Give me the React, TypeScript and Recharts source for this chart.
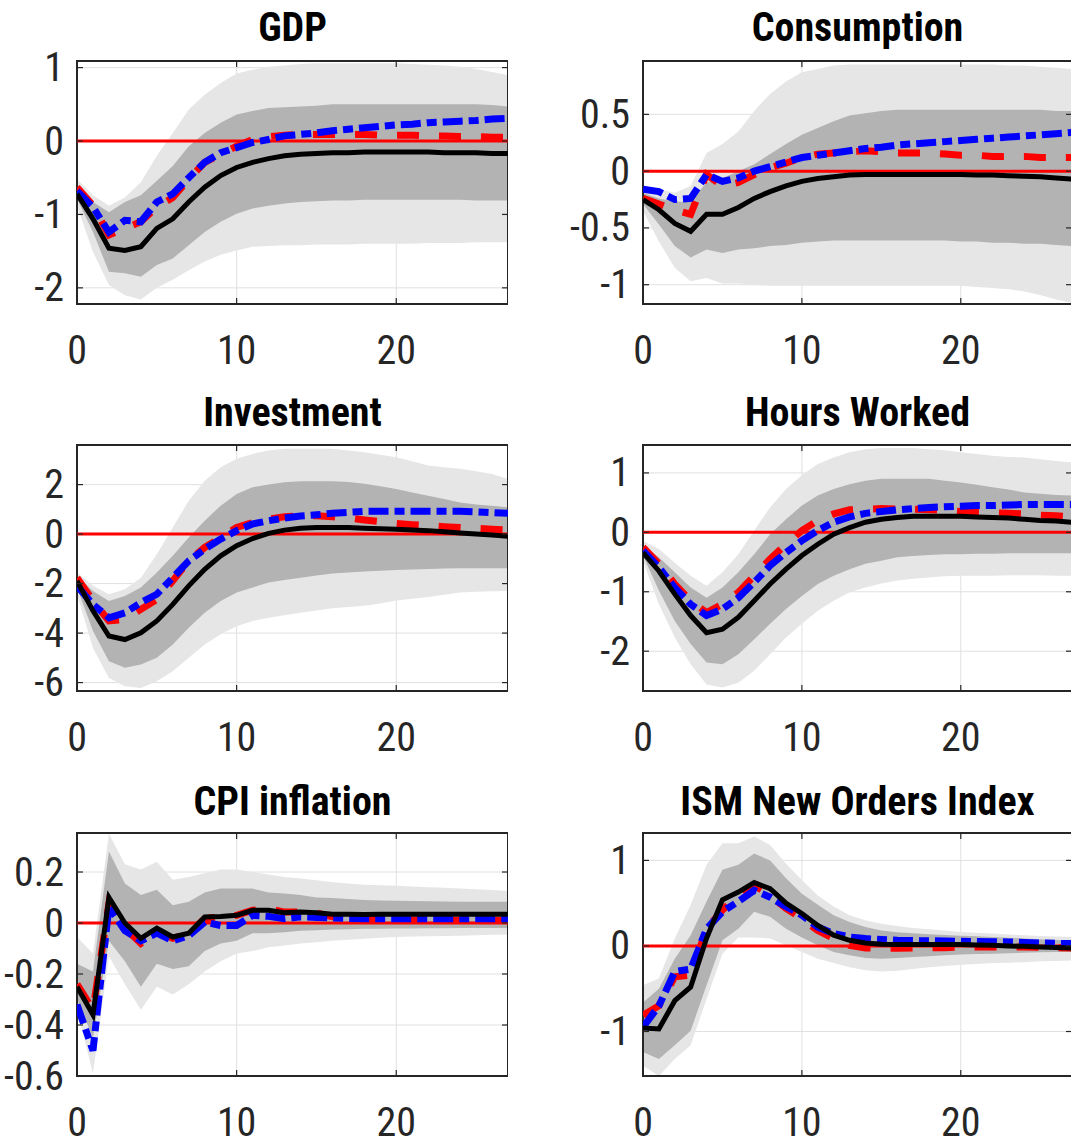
import React from "react";
import { ComposedChart, Area, Line, XAxis, YAxis, CartesianGrid, ReferenceLine, ReferenceArea } from "recharts";

const horizons = Array.from({ length: 28 }, (_, i) => i);
const xTicks = [0, 10, 20];

// GDP
const gdpBaseline = [-0.72,-1.06,-1.46,-1.49,-1.44,-1.19,-1.06,-0.83,-0.63,-0.47,-0.36,-0.29,-0.24,-0.2,-0.18,-0.17,-0.16,-0.16,-0.15,-0.15,-0.15,-0.15,-0.15,-0.16,-0.16,-0.16,-0.17,-0.17];
const gdpRed = [-0.63,-0.88,-1.28,-1.19,-1.1,-0.9,-0.77,-0.52,-0.29,-0.18,-0.07,0.02,0.06,0.08,0.09,0.09,0.09,0.09,0.09,0.08,0.08,0.08,0.07,0.07,0.06,0.06,0.05,0.05];
const gdpBlue = [-0.68,-0.9,-1.24,-1.08,-1.1,-0.83,-0.72,-0.5,-0.29,-0.16,-0.09,-0.02,0.02,0.07,0.09,0.11,0.14,0.16,0.18,0.2,0.22,0.23,0.25,0.26,0.27,0.28,0.3,0.31];
const gdpDarkHi = [-0.68,-0.83,-0.97,-0.83,-0.74,-0.54,-0.34,-0.07,0.11,0.25,0.36,0.41,0.45,0.46,0.47,0.48,0.5,0.5,0.5,0.5,0.5,0.5,0.5,0.5,0.5,0.5,0.49,0.47];
const gdpDarkLo = [-0.79,-1.24,-1.78,-1.8,-1.85,-1.69,-1.6,-1.42,-1.24,-1.1,-0.99,-0.92,-0.88,-0.85,-0.83,-0.82,-0.81,-0.81,-0.8,-0.8,-0.8,-0.8,-0.8,-0.8,-0.8,-0.81,-0.81,-0.81];
const gdpLightHi = [-0.52,-0.74,-0.88,-0.77,-0.56,-0.2,0.11,0.43,0.63,0.79,0.92,0.97,1.01,1.03,1.05,1.06,1.06,1.06,1.06,1.06,1.06,1.05,1.04,1.03,1.01,0.98,0.94,0.9];
const gdpLightLo = [-0.88,-1.51,-1.96,-2.1,-2.16,-2.0,-1.89,-1.76,-1.64,-1.55,-1.49,-1.44,-1.43,-1.42,-1.42,-1.41,-1.41,-1.41,-1.4,-1.4,-1.4,-1.4,-1.39,-1.39,-1.39,-1.38,-1.38,-1.38];

// Consumption
const consBaseline = [-0.25,-0.34,-0.46,-0.53,-0.38,-0.38,-0.32,-0.24,-0.18,-0.13,-0.09,-0.065,-0.05,-0.035,-0.03,-0.03,-0.03,-0.03,-0.03,-0.03,-0.03,-0.035,-0.035,-0.04,-0.045,-0.05,-0.06,-0.07];
const consRed = [-0.24,-0.29,-0.34,-0.38,-0.03,-0.13,-0.1,-0.03,0.03,0.07,0.12,0.15,0.16,0.17,0.18,0.17,0.16,0.16,0.16,0.15,0.14,0.14,0.13,0.13,0.13,0.12,0.12,0.12];
const consBlue = [-0.16,-0.18,-0.25,-0.24,-0.03,-0.09,-0.06,0,0.04,0.08,0.12,0.14,0.16,0.18,0.2,0.21,0.23,0.24,0.25,0.26,0.27,0.28,0.29,0.3,0.31,0.32,0.33,0.34];
const consDarkHi = [-0.19,-0.24,-0.27,-0.27,-0.1,-0.06,0,0.06,0.15,0.24,0.32,0.38,0.44,0.49,0.51,0.53,0.54,0.54,0.54,0.54,0.54,0.54,0.54,0.54,0.54,0.54,0.53,0.53];
const consDarkLo = [-0.29,-0.47,-0.66,-0.76,-0.69,-0.72,-0.69,-0.68,-0.66,-0.65,-0.63,-0.62,-0.61,-0.61,-0.61,-0.61,-0.61,-0.61,-0.61,-0.61,-0.62,-0.62,-0.63,-0.63,-0.64,-0.64,-0.65,-0.66];
const consLightHi = [-0.15,-0.16,-0.19,-0.13,0.16,0.24,0.35,0.53,0.68,0.79,0.87,0.9,0.93,0.94,0.94,0.94,0.94,0.94,0.94,0.94,0.94,0.94,0.94,0.93,0.93,0.92,0.91,0.9];
const consLightLo = [-0.35,-0.62,-0.85,-0.97,-0.94,-0.99,-0.99,-1.0,-1.01,-1.01,-1.01,-1.01,-1.01,-1.01,-1.01,-1.01,-1.01,-1.01,-1.01,-1.01,-1.01,-1.02,-1.03,-1.04,-1.06,-1.09,-1.13,-1.16];

// Investment
const invBaseline = [-1.89,-3.1,-4.12,-4.26,-3.99,-3.51,-2.84,-2.09,-1.42,-0.88,-0.47,-0.18,0.03,0.16,0.24,0.27,0.27,0.27,0.24,0.22,0.2,0.17,0.14,0.09,0.04,0.0,-0.04,-0.09];
const invRed = [-1.76,-2.7,-3.51,-3.45,-3.04,-2.64,-1.89,-1.08,-0.54,-0.14,0.27,0.47,0.61,0.7,0.74,0.74,0.7,0.65,0.57,0.5,0.43,0.38,0.34,0.3,0.27,0.23,0.2,0.16];
const invBlue = [-2.09,-2.84,-3.38,-3.18,-2.77,-2.43,-1.76,-1.08,-0.61,-0.2,0.14,0.41,0.54,0.65,0.73,0.78,0.84,0.88,0.92,0.92,0.92,0.92,0.92,0.92,0.92,0.9,0.87,0.84];
const invDarkHi = [-1.69,-2.3,-2.7,-2.5,-2.16,-1.55,-0.88,-0.14,0.54,1.15,1.62,1.89,2.0,2.09,2.14,2.14,2.14,2.1,2.03,1.93,1.82,1.68,1.55,1.42,1.28,1.2,1.15,1.08];
const invDarkLo = [-2.16,-3.92,-5.14,-5.4,-5.27,-5.0,-4.46,-3.78,-3.18,-2.7,-2.36,-2.16,-1.96,-1.85,-1.76,-1.67,-1.59,-1.55,-1.51,-1.48,-1.45,-1.43,-1.41,-1.39,-1.38,-1.38,-1.38,-1.38];
const invLightHi = [-1.55,-2.09,-2.43,-2.23,-1.76,-0.81,0.27,1.35,2.16,2.7,3.04,3.24,3.38,3.45,3.45,3.45,3.45,3.38,3.31,3.21,3.11,2.94,2.77,2.7,2.64,2.54,2.43,2.23];
const invLightLo = [-2.43,-4.6,-5.81,-6.15,-6.22,-5.95,-5.54,-5.0,-4.46,-4.05,-3.72,-3.51,-3.38,-3.28,-3.18,-3.09,-3.0,-2.95,-2.9,-2.8,-2.68,-2.61,-2.54,-2.45,-2.36,-2.33,-2.31,-2.3];

// Hours worked
const hrsBaseline = [-0.34,-0.65,-1.04,-1.4,-1.69,-1.63,-1.43,-1.15,-0.87,-0.62,-0.39,-0.2,-0.03,0.08,0.17,0.22,0.25,0.27,0.27,0.27,0.27,0.26,0.25,0.24,0.22,0.2,0.19,0.17];
const hrsRed = [-0.25,-0.53,-0.87,-1.15,-1.35,-1.21,-1.01,-0.73,-0.45,-0.2,0.03,0.2,0.31,0.38,0.39,0.4,0.39,0.39,0.38,0.37,0.35,0.34,0.33,0.32,0.31,0.29,0.28,0.26];
const hrsBlue = [-0.31,-0.59,-0.93,-1.21,-1.4,-1.29,-1.1,-0.84,-0.56,-0.34,-0.14,0.03,0.17,0.26,0.32,0.35,0.38,0.4,0.42,0.43,0.44,0.45,0.45,0.46,0.47,0.47,0.47,0.47];
const hrsDarkHi = [-0.22,-0.42,-0.67,-0.93,-1.1,-0.93,-0.67,-0.37,-0.03,0.22,0.45,0.62,0.73,0.81,0.87,0.9,0.9,0.9,0.9,0.87,0.84,0.8,0.76,0.72,0.67,0.65,0.63,0.62];
const hrsDarkLo = [-0.39,-0.98,-1.49,-1.88,-2.19,-2.22,-2.05,-1.8,-1.54,-1.29,-1.07,-0.87,-0.73,-0.62,-0.53,-0.48,-0.42,-0.4,-0.38,-0.37,-0.37,-0.36,-0.36,-0.35,-0.35,-0.35,-0.35,-0.35];
const hrsLightHi = [-0.14,-0.28,-0.51,-0.73,-0.9,-0.67,-0.37,0.03,0.42,0.73,0.96,1.15,1.26,1.35,1.4,1.42,1.42,1.42,1.4,1.38,1.35,1.32,1.29,1.27,1.26,1.23,1.2,1.18];
const hrsLightLo = [-0.48,-1.21,-1.77,-2.22,-2.56,-2.61,-2.53,-2.33,-2.05,-1.77,-1.54,-1.32,-1.15,-1.01,-0.93,-0.86,-0.81,-0.78,-0.76,-0.74,-0.73,-0.73,-0.73,-0.72,-0.72,-0.72,-0.73,-0.73];

// CPI inflation
const cpiBaseline = [-0.25,-0.36,0.1,0.0,-0.06,-0.02,-0.055,-0.04,0.024,0.026,0.03,0.05,0.05,0.04,0.043,0.04,0.034,0.034,0.033,0.034,0.034,0.034,0.034,0.034,0.034,0.034,0.034,0.034];
const cpiRed = [-0.24,-0.34,0.076,-0.02,-0.08,-0.035,-0.06,-0.04,0.017,0.024,0.03,0.05,0.057,0.043,0.043,0.04,0.024,0.02,0.017,0.015,0.013,0.012,0.011,0.01,0.01,0.01,0.01,0.01];
const cpiBlue = [-0.32,-0.5,0.063,-0.03,-0.07,-0.04,-0.07,-0.05,0.004,-0.01,-0.01,0.03,0.026,0.017,0.024,0.022,0.02,0.018,0.017,0.017,0.017,0.017,0.017,0.017,0.017,0.017,0.017,0.017];
const cpiDarkHi = [-0.16,-0.19,0.28,0.155,0.11,0.13,0.07,0.083,0.12,0.135,0.135,0.135,0.12,0.116,0.11,0.1,0.098,0.094,0.09,0.088,0.087,0.086,0.085,0.084,0.083,0.083,0.083,0.083];
const cpiDarkLo = [-0.3,-0.45,-0.07,-0.15,-0.25,-0.16,-0.18,-0.17,-0.11,-0.08,-0.07,-0.04,-0.04,-0.036,-0.03,-0.028,-0.025,-0.024,-0.023,-0.023,-0.022,-0.022,-0.021,-0.021,-0.02,-0.02,-0.02,-0.02];
const cpiLightHi = [-0.055,-0.12,0.35,0.23,0.21,0.24,0.17,0.18,0.195,0.21,0.21,0.2,0.19,0.18,0.175,0.168,0.16,0.155,0.15,0.148,0.146,0.143,0.14,0.138,0.135,0.132,0.129,0.126];
const cpiLightLo = [-0.34,-0.59,-0.13,-0.24,-0.34,-0.25,-0.28,-0.24,-0.19,-0.15,-0.12,-0.11,-0.095,-0.088,-0.08,-0.075,-0.07,-0.066,-0.062,-0.058,-0.055,-0.053,-0.052,-0.051,-0.05,-0.048,-0.046,-0.045];

// ISM New Orders Index
const ismBaseline = [-0.96,-0.97,-0.64,-0.48,0.09,0.54,0.63,0.74,0.67,0.5,0.38,0.24,0.125,0.066,0.035,0.02,0.016,0.016,0.016,0.016,0.016,0.012,0.008,0.0,-0.005,-0.012,-0.018,-0.023];
const ismRed = [-0.81,-0.7,-0.36,-0.34,0.2,0.42,0.59,0.71,0.59,0.44,0.32,0.18,0.086,0.008,-0.023,-0.03,-0.027,-0.024,-0.02,-0.02,-0.012,-0.012,-0.012,-0.012,-0.012,-0.015,-0.02,-0.023];
const ismBlue = [-0.95,-0.7,-0.3,-0.27,0.2,0.4,0.52,0.65,0.57,0.46,0.36,0.22,0.145,0.105,0.086,0.074,0.066,0.063,0.06,0.058,0.055,0.052,0.05,0.047,0.04,0.035,0.03,0.027];
const ismDarkHi = [-0.66,-0.5,-0.15,0.125,0.52,0.89,0.95,1.08,1.0,0.79,0.61,0.48,0.36,0.28,0.22,0.18,0.16,0.148,0.137,0.128,0.12,0.112,0.105,0.097,0.086,0.078,0.07,0.066];
const ismDarkLo = [-1.24,-1.32,-1.16,-0.99,-0.46,0.066,0.2,0.4,0.34,0.2,0.1,0.008,-0.07,-0.11,-0.14,-0.15,-0.14,-0.13,-0.12,-0.11,-0.1,-0.095,-0.09,-0.085,-0.08,-0.075,-0.072,-0.07];
const ismLightHi = [-0.46,-0.38,0.086,0.48,0.95,1.2,1.2,1.28,1.18,0.96,0.77,0.59,0.46,0.36,0.3,0.26,0.234,0.21,0.195,0.18,0.164,0.155,0.145,0.135,0.125,0.115,0.11,0.105];
const ismLightLo = [-1.4,-1.52,-1.32,-1.16,-0.62,-0.09,0.1,0.1,0.086,0.008,-0.07,-0.15,-0.2,-0.25,-0.285,-0.3,-0.29,-0.27,-0.25,-0.235,-0.22,-0.21,-0.2,-0.195,-0.19,-0.18,-0.175,-0.17];

const titles = ["GDP", "Consumption", "Investment", "Hours Worked", "CPI inflation", "ISM New Orders Index"];
const yTicks = [[-2, -1, 0, 1], [-1, -0.5, 0, 0.5], [-6, -4, -2, 0, 2], [-2, -1, 0, 1], [-0.6, -0.4, -0.2, 0, 0.2], [-1, 0, 1]];
const yDomains = [[-2.22, 1.09], [-1.17, 0.97], [-6.34, 3.6], [-2.67, 1.47], [-0.6, 0.353], [-1.52, 1.32]];

const series = [
  [gdpBaseline, gdpRed, gdpBlue, gdpDarkLo, gdpDarkHi, gdpLightLo, gdpLightHi],
  [consBaseline, consRed, consBlue, consDarkLo, consDarkHi, consLightLo, consLightHi],
  [invBaseline, invRed, invBlue, invDarkLo, invDarkHi, invLightLo, invLightHi],
  [hrsBaseline, hrsRed, hrsBlue, hrsDarkLo, hrsDarkHi, hrsLightLo, hrsLightHi],
  [cpiBaseline, cpiRed, cpiBlue, cpiDarkLo, cpiDarkHi, cpiLightLo, cpiLightHi],
  [ismBaseline, ismRed, ismBlue, ismDarkLo, ismDarkHi, ismLightLo, ismLightHi],
];

// layout (plot boxes)
const boxes = [
  { left: 77, top: 61, w: 431, h: 243, titleY: 28 },
  { left: 643, top: 61, w: 429, h: 243, titleY: 28 },
  { left: 77, top: 445, w: 431, h: 246, titleY: 413 },
  { left: 643, top: 445, w: 429, h: 246, titleY: 413 },
  { left: 77, top: 833, w: 431, h: 243, titleY: 802 },
  { left: 643, top: 833, w: 429, h: 243, titleY: 802 },
];

const FONT = "'Liberation Sans Narrow', 'Roboto Condensed', 'DejaVu Sans Condensed', 'Liberation Sans', sans-serif";
const AXW = 100;
const AXH = 80;
const TOPPAD = 24;
const YGAP = 13;
const XGAP = 46;
const TICKLEN = 6;
const AXCOL = "#262626";

const YTick = (props: any) => {
  const { x, y, payload, plotW } = props;
  const px = x + YGAP;
  return (
    <g>
      <line x1={px} x2={px + TICKLEN} y1={y} y2={y} stroke={AXCOL} strokeWidth={1.2} />
      <line x1={px + plotW - TICKLEN} x2={px + plotW} y1={y} y2={y} stroke={AXCOL} strokeWidth={1.2} />
      <text x={x} y={y} textAnchor="end" dominantBaseline="central" fontSize={40} fill={AXCOL} fontFamily={FONT}>
        {String(payload.value)}
      </text>
    </g>
  );
};
const XTick = (props: any) => {
  const { x, y, payload, plotH } = props;
  const py = y - XGAP;
  return (
    <g>
      <line x1={x} x2={x} y1={py} y2={py - TICKLEN} stroke={AXCOL} strokeWidth={1.2} />
      <line x1={x} x2={x} y1={py - plotH} y2={py - plotH + TICKLEN} stroke={AXCOL} strokeWidth={1.2} />
      <text x={x} y={y} textAnchor="middle" dominantBaseline="central" fontSize={40} fill={AXCOL} fontFamily={FONT}>
        {String(payload.value)}
      </text>
    </g>
  );
};

function Panel({ idx }: { idx: number }) {
  const b = boxes[idx];
  const [base, red, blue, dLo, dHi, lLo, lHi] = series[idx];
  const data = horizons.map((t, i) => ({
    t,
    base: base[i],
    red: red[i],
    blue: blue[i],
    dark: [dLo[i], dHi[i]],
    light: [lLo[i], lHi[i]],
  }));
  const [y0, y1] = yDomains[idx];
  return (
    <>
      <div
        style={{
          position: "absolute",
          left: b.left,
          width: b.w,
          top: b.titleY - 25,
          height: 50,
          lineHeight: "50px",
          textAlign: "center",
          fontFamily: FONT,
          fontWeight: "bold",
          fontSize: 40,
          color: "#000",
          whiteSpace: "nowrap",
        }}
      >
        {titles[idx]}
      </div>
      <div style={{ position: "absolute", left: b.left - AXW, top: b.top - TOPPAD }}>
        <ComposedChart width={AXW + b.w} height={TOPPAD + b.h + AXH} data={data} margin={{ top: TOPPAD, right: 0, bottom: 0, left: 0 }}>
          <CartesianGrid stroke="#e0e0e0" strokeWidth={1} horizontal vertical />
          <Area type="linear" dataKey="light" stroke="none" fill="#e6e6e6" fillOpacity={1} isAnimationActive={false} />
          <Area type="linear" dataKey="dark" stroke="none" fill="#b3b3b3" fillOpacity={1} isAnimationActive={false} />
          <ReferenceLine y={0} stroke="#ff0000" strokeWidth={3} />
          <Line type="linear" dataKey="red" stroke="#ff0000" strokeWidth={7} strokeDasharray="22 20" dot={false} isAnimationActive={false} />
          <Line type="linear" dataKey="blue" stroke="#0000ff" strokeWidth={7} strokeDasharray="20 6 10 6" dot={false} isAnimationActive={false} />
          <Line type="linear" dataKey="base" stroke="#000000" strokeWidth={5} dot={false} isAnimationActive={false} />
          <XAxis
            dataKey="t"
            type="number"
            domain={[0, 27]}
            ticks={xTicks}
            allowDataOverflow
            height={AXH}
            tickSize={0}
            tickMargin={XGAP}
            axisLine={false}
            tick={<XTick plotH={b.h} />}
            interval={0}
          />
          <YAxis
            type="number"
            domain={[y0, y1]}
            ticks={yTicks[idx]}
            allowDataOverflow
            width={AXW}
            tickSize={0}
            tickMargin={YGAP}
            axisLine={false}
            tick={<YTick plotW={b.w} />}
            interval={0}
          />
          <ReferenceArea x1={0} x2={27} y1={y0} y2={y1} fill="none" stroke={AXCOL} strokeWidth={2} ifOverflow="visible" />
        </ComposedChart>
      </div>
    </>
  );
}

export default function App() {
  return (
    <div
      style={{
        position: "absolute",
        left: 0,
        top: 0,
        width: 1071,
        height: 1141,
        overflow: "hidden",
        background: "#fff",
      }}
    >
      {titles.map((_, i) => (
        <Panel key={i} idx={i} />
      ))}
    </div>
  );
}
